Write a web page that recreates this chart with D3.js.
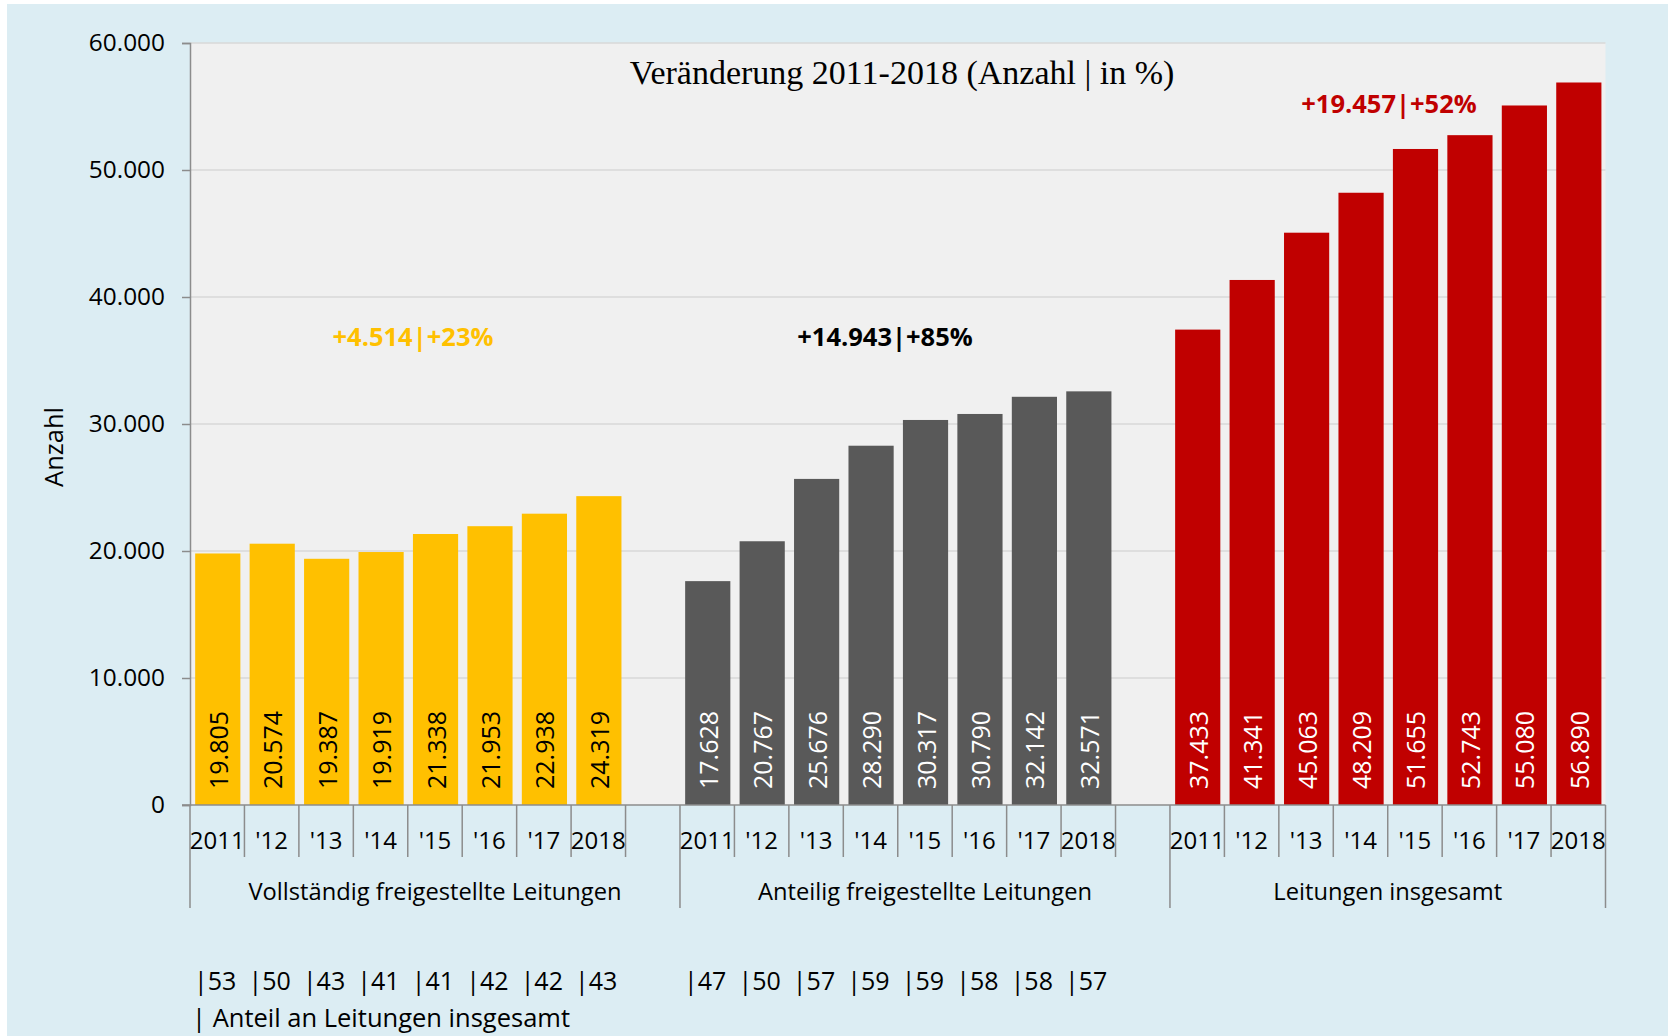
<!DOCTYPE html>
<html>
<head>
<meta charset="utf-8">
<script src="https://cdn.jsdelivr.net/npm/d3@7"></script>
<style>
  html, body { margin: 0; padding: 0; background: #fff; }
  text { font-family: "Open Sans", sans-serif; }
</style>
</head>
<body>
<svg id="chart" width="1668" height="1036"></svg>
<script>
// Data
const groups = ["Vollständig freigestellte Leitungen", "Anteilig freigestellte Leitungen", "Leitungen insgesamt"];
const years = ["2011", "'12", "'13", "'14", "'15", "'16", "'17", "2018"];
const vollstaendig = [19805, 20574, 19387, 19919, 21338, 21953, 22938, 24319];
const anteilig = [17628, 20767, 25676, 28290, 30317, 30790, 32142, 32571];
const insgesamt = [37433, 41341, 45063, 48209, 51655, 52743, 55080, 56890];
const shareVoll = [53, 50, 43, 41, 41, 42, 42, 43];
const shareAnteil = [47, 50, 57, 59, 59, 58, 58, 57];
const changes = ["+4.514|+23%", "+14.943|+85%", "+19.457|+52%"];
const yTicks = [0, 10000, 20000, 30000, 40000, 50000, 60000];

const colors = ["#FFC000", "#595959", "#C00000"];
const labelColors = ["#000", "#fff", "#fff"];

const svg = d3.select("#chart");
const width = 1668, height = 1036;

// plot box
const plotLeft = 190, plotRight = 1605.5, plotTop = 43, plotBottom = 805;

const de = d3.formatLocale({ decimal: ",", thousands: ".", grouping: [3], currency: ["", "€"] });
const fmt = de.format(",d");

// outer background
svg.append("rect").attr("x", 7).attr("y", 4).attr("width", width - 7).attr("height", height - 4)
  .attr("fill", "#DCEDF3");
// plot background
svg.append("rect").attr("x", plotLeft).attr("y", plotTop)
  .attr("width", plotRight - plotLeft).attr("height", plotBottom - plotTop)
  .attr("fill", "#F0F0F0");

// slots: 8 years + 1 gap for the first two groups, 8 for the last
const slots = [];
const series = [vollstaendig, anteilig, insgesamt];
series.forEach((vals, g) => {
  vals.forEach((v, i) => slots.push({ key: g + "-" + i, g: g, i: i, value: v }));
  if (g < 2) slots.push({ key: g + "-gap", g: g, i: 8, value: null });
});

const x = d3.scaleBand().domain(slots.map(d => d.key)).range([plotLeft, plotRight]).padding(0);
const bw = x.bandwidth();

const y = d3.scaleLinear().domain([0, 60000]).range([plotBottom, plotTop]);

// gridlines
svg.append("g").selectAll("line").data(yTicks.filter(d => d > 0)).join("line")
  .attr("x1", plotLeft).attr("x2", plotRight)
  .attr("y1", d => y(d)).attr("y2", d => y(d))
  .attr("stroke", "#D9D9D9").attr("stroke-width", 1.5);

// y axis
const yAxis = svg.append("g").attr("transform", `translate(${plotLeft},0)`)
  .call(d3.axisLeft(y).tickValues(yTicks).tickFormat(fmt).tickSize(8).tickPadding(17));
yAxis.select(".domain").attr("stroke", "#8C8C8C").attr("stroke-width", 1.5);
yAxis.selectAll(".tick line").attr("stroke", "#8C8C8C").attr("stroke-width", 1.5);
yAxis.selectAll(".tick text").attr("font-size", 24.4).attr("fill", "#000")
  .attr("font-family", "'Open Sans', sans-serif");

svg.append("text")
  .attr("transform", "translate(53,447) rotate(-90)")
  .attr("text-anchor", "middle").attr("dominant-baseline", "central")
  .attr("font-size", 25.5).text("Anzahl");

// bars
const bars = slots.filter(d => d.value !== null);
svg.append("g").selectAll("rect").data(bars).join("rect")
  .attr("x", d => x(d.key) + bw * 0.095)
  .attr("width", bw * 0.83)
  .attr("y", d => y(d.value))
  .attr("height", d => y(0) - y(d.value))
  .attr("fill", d => colors[d.g]);

// value labels inside bars
svg.append("g").selectAll("text").data(bars).join("text")
  .attr("transform", d => `translate(${x(d.key) + bw * 0.095 + bw * 0.415},${y(0) - 16}) rotate(-90)`)
  .attr("text-anchor", "start").attr("dominant-baseline", "central")
  .attr("font-size", 25).attr("fill", d => labelColors[d.g])
  .text(d => fmt(d.value));

// x axis line
svg.append("line").attr("x1", plotLeft - 8).attr("x2", plotRight).attr("y1", plotBottom).attr("y2", plotBottom)
  .attr("stroke", "#8C8C8C").attr("stroke-width", 1.5);

// category ticks (short) and group boundaries (long)
const boundaries = slots.map(d => ({ pos: x(d.key), long: d.i === 0 }));
boundaries.push({ pos: plotRight, long: true });
svg.append("g").selectAll("line").data(boundaries).join("line")
  .attr("x1", d => d.pos).attr("x2", d => d.pos)
  .attr("y1", plotBottom).attr("y2", d => d.long ? 908 : 857)
  .attr("stroke", "#8C8C8C").attr("stroke-width", 1.5);

// year labels
svg.append("g").selectAll("text").data(bars).join("text")
  .attr("x", d => x(d.key) + bw / 2).attr("y", 839)
  .attr("text-anchor", "middle").attr("dominant-baseline", "central")
  .attr("font-size", 24).text(d => years[d.i]);

// group labels
svg.append("g").selectAll("text").data(groups).join("text")
  .attr("x", (d, g) => {
    const s = x(g + "-0");
    const e = g < 2 ? x((g + 1) + "-0") : plotRight;
    return (s + e) / 2;
  })
  .attr("y", 891)
  .attr("text-anchor", "middle").attr("dominant-baseline", "central")
  .attr("font-size", 23.7).text(d => d);

// title
svg.append("text").attr("x", 902).attr("y", 72)
  .attr("text-anchor", "middle").attr("dominant-baseline", "central")
  .attr("font-size", 34)
  .style("font-family", "'Liberation Serif', serif")
  .text("Veränderung 2011-2018 (Anzahl | in %)");

// change annotations
const annoPos = [[413, 336], [885, 336], [1389, 103]];
const annoColors = ["#FFC000", "#000", "#C00000"];
svg.append("g").selectAll("text").data(changes).join("text")
  .attr("x", (d, i) => annoPos[i][0]).attr("y", (d, i) => annoPos[i][1])
  .attr("text-anchor", "middle").attr("dominant-baseline", "central")
  .attr("font-size", 25.5).attr("font-weight", "bold")
  .attr("fill", (d, i) => annoColors[i]).text(d => d);

// share of total labels
const shares = [];
shareVoll.forEach((v, i) => shares.push({ key: "0-" + i, v: v }));
shareAnteil.forEach((v, i) => shares.push({ key: "1-" + i, v: v }));
svg.append("g").selectAll("text").data(shares).join("text")
  .attr("x", d => x(d.key) + 4).attr("y", 980)
  .attr("dominant-baseline", "central")
  .attr("font-size", 25).text(d => "|" + d.v);

svg.append("text").attr("x", 192).attr("y", 1017)
  .attr("dominant-baseline", "central")
  .attr("font-size", 25.5).text("| Anteil an Leitungen insgesamt");
</script>
</body>
</html>
